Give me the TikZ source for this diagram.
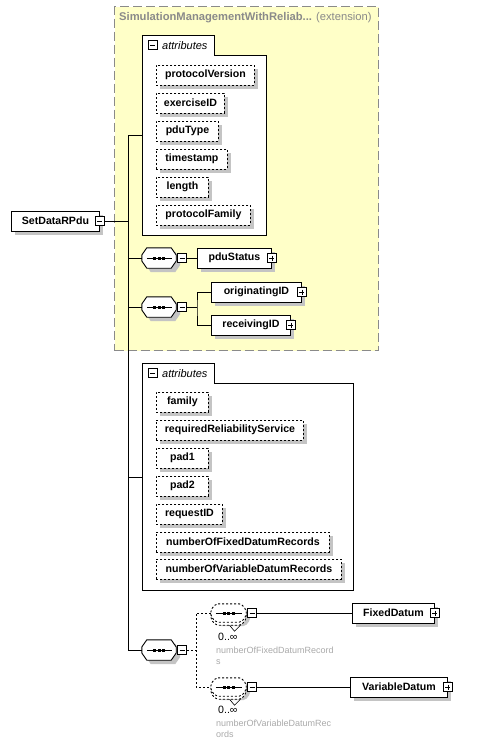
\documentclass[tikz,border=0pt]{standalone}
\usepackage{fontspec}
\setmainfont{Liberation Sans}
\usepackage{tikz}
\usetikzlibrary{calc,shadows}
\definecolor{schemayellow}{HTML}{FFFFC8}
\definecolor{framegray}{HTML}{8A8A8A}
\definecolor{shadowgray}{HTML}{C4C4C4}
\definecolor{notegray}{HTML}{A9A9A9}
\newcommand{\seqoutline}[1]{([yshift=3]#1.west) -- ([xshift=5]#1.north west) -- ([xshift=-5]#1.north east)
  -- ([yshift=3]#1.east) -- ([yshift=-3]#1.east) -- ([xshift=-5]#1.south east)
  -- ([xshift=5]#1.south west) -- ([yshift=-3]#1.west) -- cycle}
\newcommand{\seqdots}[1]{%
  \draw[wire] ([xshift=5]#1.west) -- ([xshift=-4]#1.east);
  \fill[black] ([xshift=-6,yshift=1.5]#1.center) rectangle ++(3pt,-3pt);
  \fill[black] ([xshift=-1.5,yshift=1.5]#1.center) rectangle ++(3pt,-3pt);
  \fill[black] ([xshift=3,yshift=1.5]#1.center) rectangle ++(3pt,-3pt);}
\tikzset{
  wire/.style={draw=black, line width=0.9pt},
  dashwire/.style={draw=black, line width=0.9pt, dash pattern=on 2pt off 2pt},
  boxshadow/.style={drop shadow={shadow xshift=4pt, shadow yshift=-4pt, fill=shadowgray, opacity=1}},
  elem/.style={draw=black, line width=0.9pt, fill=white, boxshadow, minimum height=20, inner xsep=4pt,
    anchor=west, font=\fontsize{10.6}{12}\selectfont\bfseries},
  attr/.style={elem, dash pattern=on 2pt off 2pt},
  pmbox/.style={draw=black, line width=0.8pt, fill=white, minimum size=9, inner sep=0},
  minus/.style={pmbox, path picture={
    \draw[solid, line width=0.8pt] ([xshift=2]path picture bounding box.west) -- ([xshift=-2]path picture bounding box.east);}},
  plus/.style={pmbox, path picture={
    \draw[solid, line width=0.8pt] ([xshift=2]path picture bounding box.west) -- ([xshift=-2]path picture bounding box.east);
    \draw[solid, line width=0.8pt] ([yshift=-2]path picture bounding box.north) -- ([yshift=2]path picture bounding box.south);}},
  seqbox/.style={minimum width=34, minimum height=20, inner sep=0},
  seqline/.style={wire, fill=white, boxshadow},
  repbox/.style={minimum width=35, minimum height=18, inner sep=0},
  repline/.style={dashwire, fill=white, rounded corners=2pt},
  extbox/.style={draw=framegray, fill=schemayellow, line width=1pt, dash pattern=on 9pt off 4pt, inner sep=0},
  group/.style={inner sep=0},
  grouplab/.style={inner sep=0, anchor=west, font=\fontsize{11}{12}\selectfont\itshape},
  titlelab/.style={inner sep=0, anchor=west, text=framegray, font=\fontsize{11.2}{12}\selectfont},
  occurs/.style={inner sep=0, anchor=west, font=\fontsize{10.6}{12}\selectfont},
  note/.style={inner sep=0, anchor=north west, align=left, text=notegray, font=\fontsize{9}{11}\selectfont},
}

\begin{document}
\begin{tikzpicture}[x=1pt,y=-1pt]
  \useasboundingbox (0,0) rectangle (477,739);

  % extension base
  \node[extbox, anchor=north west, minimum width=264, minimum height=344] (ext) at (114,6) {};
  \node[titlelab] (extlab) at (119,18) {\bfseries SimulationManagementWithReliab...\mdseries{} (extension)};

  % root element
  \node[elem, minimum width=88] (root) at (11,221) {SetDataRPdu};
  \node[minus] (rootm) at (root.east) {};

  % first attribute group
  \node[group, anchor=north west, minimum width=124, minimum height=180] (attrA) at (142,55) {};
  \node[group, anchor=south west, minimum width=72, minimum height=19] (attrAtab) at (attrA.north west) {};
  \filldraw[wire, fill=white] (attrAtab.north west) -- (attrAtab.north east) |- (attrA.north east)
    -- (attrA.south east) -- (attrA.south west) -- cycle;
  \node[minus] (attrAm) at ([xshift=10.5]attrAtab.west) {};
  \node[grouplab] (attrAlab) at ([xshift=20]attrAtab.west) {attributes};

  \node[attr, minimum width=98] (protocolVersion) at (156,75) {protocolVersion};
  \node[attr, minimum width=68] (exerciseID) at (156,103) {exerciseID};
  \node[attr, minimum width=62] (pduType) at (156,131) {pduType};
  \node[attr, minimum width=71] (timestamp) at (156,159) {timestamp};
  \node[attr, minimum width=52] (length) at (156,187) {length};
  \node[attr, minimum width=94] (protocolFamily) at (156,215) {protocolFamily};

  % sequences inside the base
  \node[seqbox] (seqA) at (159,258) {};
  \filldraw[seqline] \seqoutline{seqA};
  \seqdots{seqA}
  \node[minus, anchor=west] (seqAm) at ([xshift=1]seqA.east) {};
  \node[elem, minimum width=74] (pduStatus) at (197,258) {pduStatus};
  \node[plus] (pduStatusp) at (pduStatus.east) {};
  \draw[wire] (seqAm.east) -- (pduStatus.west);

  \node[seqbox] (seqB) at (159,307) {};
  \filldraw[seqline] \seqoutline{seqB};
  \seqdots{seqB}
  \node[minus, anchor=west] (seqBm) at ([xshift=1]seqB.east) {};
  \node[elem, minimum width=90] (originatingID) at (211,292) {originatingID};
  \node[plus] (originatingIDp) at (originatingID.east) {};
  \node[elem, minimum width=79] (receivingID) at (211,325) {receivingID};
  \node[plus] (receivingIDp) at (receivingID.east) {};
  \draw[wire] (seqBm.east) -- ++(10,0) coordinate (seqBfork);
  \draw[wire] (originatingID.west) -| (seqBfork) |- (receivingID.west);

  % second attribute group
  \node[group, anchor=north west, minimum width=211, minimum height=207] (attrB) at (142,383) {};
  \node[group, anchor=south west, minimum width=72, minimum height=19] (attrBtab) at (attrB.north west) {};
  \filldraw[wire, fill=white] (attrBtab.north west) -- (attrBtab.north east) |- (attrB.north east)
    -- (attrB.south east) -- (attrB.south west) -- cycle;
  \node[minus] (attrBm) at ([xshift=10.5]attrBtab.west) {};
  \node[grouplab] (attrBlab) at ([xshift=20]attrBtab.west) {attributes};

  \node[attr, minimum width=52] (family) at (156,402) {family};
  \node[attr, minimum width=147] (requiredReliabilityService) at (156,430) {requiredReliabilityService};
  \node[attr, minimum width=52] (pad1) at (156,458) {pad1};
  \node[attr, minimum width=52] (pad2) at (156,486) {pad2};
  \node[attr, minimum width=66] (requestID) at (156,514) {requestID};
  \node[attr, minimum width=173] (numberOfFixedDatumRecords) at (156,542) {numberOfFixedDatumRecords};
  \node[attr, minimum width=185] (numberOfVariableDatumRecords) at (156,569) {numberOfVariableDatumRecords};

  % datum records
  \node[seqbox] (seqC) at (159,650) {};
  \filldraw[seqline] \seqoutline{seqC};
  \seqdots{seqC}
  \node[minus, anchor=west] (seqCm) at ([xshift=1]seqC.east) {};

  \node[repbox] (repA) at (228.5,613) {};
  \filldraw[repline, boxshadow, transform canvas={yshift=-3pt}] \seqoutline{repA};
  \filldraw[repline] \seqoutline{repA};
  \seqdots{repA}
  \draw[line width=0.6pt] ($(repA.south)+(1,3)$) -- +(5,6) -- +(11,0);
  \node[minus, anchor=west] (repAm) at ([xshift=1]repA.east) {};
  \node[occurs] (repAocc) at (218,637) {0..∞};
  \node[note] (repAnote) at (216,647) {numberOfFixedDatumRecord\\s};
  \node[elem, minimum width=82] (FixedDatum) at (352,613) {FixedDatum};
  \node[plus] (FixedDatump) at (FixedDatum.east) {};
  \draw[wire] (repAm.east) -- (FixedDatum.west);

  \node[repbox] (repB) at (228.5,687) {};
  \filldraw[repline, boxshadow, transform canvas={yshift=-3pt}] \seqoutline{repB};
  \filldraw[repline] \seqoutline{repB};
  \seqdots{repB}
  \draw[line width=0.6pt] ($(repB.south)+(1,3)$) -- +(5,6) -- +(11,0);
  \node[minus, anchor=west] (repBm) at ([xshift=1]repB.east) {};
  \node[occurs] (repBocc) at (218,710) {0..∞};
  \node[note] (repBnote) at (216,720) {numberOfVariableDatumRec\\ords};
  \node[elem, minimum width=97] (VariableDatum) at (350,687) {VariableDatum};
  \node[plus] (VariableDatump) at (VariableDatum.east) {};
  \draw[wire] (repBm.east) -- (VariableDatum.west);

  \draw[dashwire] (seqCm.east) -- ++(9,0) coordinate (seqCfork);
  \draw[dashwire] (repA.west) -| (seqCfork) |- (repB.west);

  % trunk from the root
  \coordinate (attrAin) at ($(attrAtab.north west)!0.5!(attrA.south west)$);
  \coordinate (attrBin) at ($(attrBtab.north west)!0.5!(attrB.south west)$);
  \coordinate (trunk) at ([xshift=-14]attrAin);
  \draw[wire] (rootm.east) -- (rootm.east -| trunk);
  \draw[wire] (attrAin) -- (trunk) -- (trunk |- seqC.west) -- (seqC.west);
  \draw[wire] (trunk |- seqA.west) -- (seqA.west);
  \draw[wire] (trunk |- seqB.west) -- (seqB.west);
  \draw[wire] (trunk |- attrBin) -- (attrBin);
\end{tikzpicture}
\end{document}
